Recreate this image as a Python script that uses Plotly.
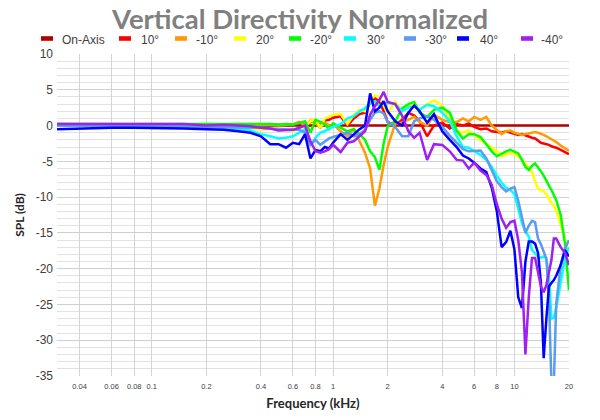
import math
import plotly.graph_objects as go

# ---------------- data ----------------
freq_khz = [0.03, 0.04, 0.05, 0.06, 0.08, 0.1, 0.12, 0.15, 0.2, 0.25, 0.3,
            0.35, 0.4, 0.45, 0.5, 0.55, 0.6, 0.65, 0.7, 0.75, 0.8, 0.85, 0.9, 0.95, 1.0,
            1.1, 1.2, 1.3, 1.4, 1.5, 1.6, 1.7, 1.8, 1.9, 2.0,
            2.2, 2.4, 2.6, 2.8, 3.0,
            3.3, 3.6, 4.0, 4.4, 4.8, 5.2, 5.6, 6.0,
            6.5, 7.0, 7.5, 8.0, 8.5, 9.0, 9.5, 10,
            10.5, 11, 11.5, 12, 12.5, 13, 13.5, 14, 14.5, 15,
            15.5, 16, 16.5, 17, 18, 19, 20]

series_names = ["On-Axis", "10°", "-10°", "20°", "-20°", "30°", "-30°", "40°", "-40°"]
series_colors = ["#B00000", "#FF0000", "#FF9A00", "#FFFF00", "#00FF00",
                 "#00FFFF", "#5B9BF0", "#0000FF", "#A020F0"]

on_axis_db = [0, 0, 0, 0, 0, 0, 0, 0, 0, 0, 0,
              0, 0, 0, 0, 0, 0, 0, 0, 0, 0, 0, 0, 0, 0,
              0, 0, 0, 0, 0, 0, 0, 0, 0, 0,
              0, 0, 0, 0, 0,
              0, 0, 0, 0, 0, 0, 0, 0,
              0, 0, 0, 0, 0, 0, 0, 0,
              0, 0, 0, 0, 0, 0, 0, 0, 0, 0,
              0, 0, 0, 0, 0, 0, 0]

deg_p10_db = [0.1, 0.1, 0.1, 0.1, 0.0, 0.1, 0.0, 0.1, 0.0, 0.1, 0.1,
              0.1, 0.1, 0.0, 0.0, 0.0, 0.1, 0.3, 0.1, 0.5, 0.8, 0.0, 0.7, 0.8, 1.1,
              1.3, 0.0, 1.0, 1.6, 1.8, 3.2, 3.8, 3.4, 2.0, 0.5,
              0.0, 0.8, 1.8, 1.4, 0.6,
              -1.5, 0.0, 0.4, -0.4, 0.2, 0.0, 0.3, -0.2,
              -0.5, -0.4, -0.8, -0.9, -1.0, -0.8, -1.0, -1.2,
              -1.3, -1.2, -1.4, -1.5, -1.7, -1.8, -2.1, -2.4, -2.5, -2.6,
              -2.7, -2.9, -3.0, -3.1, -3.4, -3.7, -4.0]

deg_m10_db = [0.2, 0.2, 0.2, 0.2, 0.1, 0.2, 0.1, 0.2, 0.1, 0.1, 0.2,
              0.2, 0.1, 0.1, 0.0, 0.1, 0.2, 0.5, 0.0, 0.7, 0.3, -0.3, 0.4, 0.0, 0.2,
              -0.8, -1.5, -0.5, -2.2, -3.8, -6.0, -11.2, -8.8, -5.5, -3.0,
              0.3, 0.4, 0.8, 1.2, 0.5,
              0.0, 1.5, 0.8, 0.5, 0.5, 1.0, 0.6, 1.2,
              0.8, 1.2, 0.0, -0.6, -1.2, -0.8, -0.7, -1.0,
              -1.2, -1.3, -1.2, -1.1, -1.0, -0.9, -1.0, -1.1, -1.3, -1.5,
              -1.7, -1.9, -2.1, -2.3, -2.8, -3.2, -3.5]

deg_p20_db = [0.1, 0.1, 0.1, 0.0, 0.0, 0.0, -0.1, 0.0, -0.2, -0.3, -0.3,
              -0.4, -0.6, -0.5, -0.4, -0.6, -0.8, -0.4, -0.1, 0.6, 0.9, -0.3, 1.0, 1.2, 1.5,
              1.6, 0.2, 1.5, 2.2, 2.0, 3.6, 4.2, 4.0, 2.8, 1.8,
              3.3, 2.0, 2.6, 3.0, 2.2,
              3.0, 3.5, 2.8, 0.8, -0.8, -1.0, -0.7, -1.4,
              -2.0, -2.6, -3.0, -3.6, -4.3, -4.0, -3.8, -4.0,
              -4.3, -4.8, -5.3, -6.0, -6.5, -7.8, -8.8, -9.0, -9.2, -9.6,
              -10.3, -10.8, -11.3, -11.9, -13.8, -16.0, -17.8]

deg_m20_db = [0.2, 0.2, 0.2, 0.3, 0.2, 0.2, 0.2, 0.3, 0.2, 0.2, 0.3,
              0.3, 0.2, 0.2, 0.1, 0.2, 0.1, 0.4, 0.6, -1.0, 0.8, 0.5, 0.2, -0.5, 0.3,
              -0.3, -0.8, -0.5, -1.2, -2.0, -3.6, -4.4, -6.2, -2.5, -0.1,
              0.6, 2.4, 3.0, 3.3, 1.8,
              1.2, 2.2, 2.5, 1.8, -0.7, -1.8, -1.2, -1.2,
              -1.6, -2.6, -3.6, -4.3, -3.9, -3.6, -3.4, -3.6,
              -3.9, -4.8, -5.8, -6.2, -5.6, -5.3, -5.8, -6.4, -7.0, -7.8,
              -8.4, -9.0, -9.7, -10.4, -12.5, -16.5, -23.0]

deg_p30_db = [0.0, 0.0, -0.1, -0.1, -0.1, -0.2, -0.2, -0.2, -0.3, -0.4, -0.5,
              -0.7, -1.2, -1.5, -1.8, -1.7, -1.5, -1.0, -0.5, -2.7, -1.7, -1.0, -0.8, -0.4, -0.2,
              0.2, 1.0, 1.3, 2.0, 2.4, 3.1, 3.4, 2.7, 3.1, 3.2,
              3.0, 2.0, 2.5, 2.7, 2.2,
              2.9, 2.7, 1.8, 0.6, -1.5, -3.0, -3.1, -3.6,
              -4.1, -4.8, -5.8, -7.0, -8.0, -8.7, -9.0, -9.6,
              -11.5, -13.6, -14.8, -15.5, -17.4, -17.8, -18.3, -18.5, -18.3, -18.6,
              -21.0, -27.0, -26.8, -25.5, -21.8, -18.5, -17.0]

deg_m30_db = [0.0, 0.0, 0.0, -0.1, -0.1, 0.0, -0.1, -0.1, -0.2, -0.2, -0.2,
              -0.2, -0.3, -0.4, -0.5, -0.5, -0.6, -0.6, -1.0, -2.7, -2.0, -2.7, -2.2, -1.8, -1.6,
              -1.3, -1.0, -1.5, -1.2, -0.6, 0.8, 1.8, 2.0, 1.7, 0.5,
              -0.2, -1.5, -1.5, 0.6, 1.0,
              1.3, 0.8, -0.2, -1.4, -2.4, -3.3, -3.6, -3.6,
              -3.5, -4.6, -6.2, -7.8, -8.6, -9.2, -8.8, -8.6,
              -10.5, -13.0, -15.0, -14.0, -13.3, -13.5, -15.8, -16.6, -17.5, -18.6,
              -24.0, -36.0, -36.0, -25.0, -19.5, -17.2, -16.0]

deg_p40_db = [-0.5, -0.4, -0.4, -0.3, -0.3, -0.3, -0.4, -0.4, -0.5, -0.6, -0.8,
              -1.0, -1.5, -2.6, -2.6, -3.1, -2.4, -2.6, -1.2, -4.6, -3.4, -3.6, -3.0, -3.2, -2.4,
              -1.2, -2.0, -1.2, -0.5, 0.0, 4.5, 2.0, 2.5, 3.4, 2.0,
              0.6, 0.0, 1.8, 2.8, 2.0,
              0.4, 1.6, -0.8, -2.0, -3.0, -4.2, -4.6, -5.2,
              -6.0, -6.5, -8.7, -12.0, -17.0, -16.3, -14.7, -17.3,
              -24.0, -25.5, -19.0, -16.2, -16.2, -16.5, -17.8, -22.0, -32.5, -27.0,
              -22.5, -22.0, -21.6, -21.0, -19.5, -17.4, -18.3]

deg_m40_db = [0.2, 0.2, 0.2, 0.2, 0.2, 0.2, 0.1, 0.2, 0.0, 0.1, 0.0,
              -0.1, -0.3, -0.4, -0.7, -0.7, -0.6, -0.3, 0.0, -2.2, -3.6, -3.8, -3.6, -3.3, -2.7,
              -3.7, -2.4, -2.2, -1.5, -0.8, 1.5, 2.7, 3.6, 4.7, 3.3,
              3.0, 1.4, -0.8, -1.7, -1.0,
              -4.8, -2.6, -2.7, -3.6, -4.8, -4.9, -6.0, -5.2,
              -6.3, -6.9, -8.3, -11.0, -13.0, -14.3, -13.5, -13.3,
              -16.0, -20.5, -32.0, -24.0, -18.5, -18.5, -20.5, -22.5, -23.3, -22.3,
              -20.5, -18.8, -15.8, -15.8, -17.0, -17.8, -19.5]

x_tick_vals = [0.04, 0.06, 0.08, 0.1, 0.2, 0.4, 0.6, 0.8, 1, 2, 4, 6, 8, 10, 20]
x_tick_text = ["0.04", "0.06", "0.08", "0.1", "0.2", "0.4", "0.6", "0.8",
               "1", "2", "4", "6", "8", "10", "20"]
y_tick_vals = [10, 5, 0, -5, -10, -15, -20, -25, -30, -35]
y_tick_text = ["10", "5", "0", "-5", "-10", "-15", "-20", "-25", "-30", "-35"]

# ---------------- layout constants (window pixels) ----------------
PAGE_OFF = 8                      # default body margin of the html page
W, H = 600 - PAGE_OFF, 420 - PAGE_OFF
PLOT_L, PLOT_R, PLOT_T, PLOT_B = 57, 569, 54, 376   # plot area in window pixels
M_L, M_T = PLOT_L - PAGE_OFF, PLOT_T - PAGE_OFF
M_R, M_B = W - (PLOT_R - PAGE_OFF), H - (PLOT_B - PAGE_OFF)
PW, PH = PLOT_R - PLOT_L, PLOT_B - PLOT_T
legend_swatch_px = [47, 125, 181, 240, 295, 350, 410, 463, 527]   # swatch centres
legend_text_px = [61, 140, 195, 255, 309, 366, 424, 479, 540]     # text left edges
legend_swatch_y_px = 38.5
legend_text_y_px = 39.5
title_y_px = 19


def px_to_paper_x(px):
    return (px - PLOT_L) / PW


def px_to_paper_y(py):
    return (PLOT_B - py) / PH


# ---------------- figure ----------------
all_series = [on_axis_db, deg_p10_db, deg_m10_db, deg_p20_db, deg_m20_db,
              deg_p30_db, deg_m30_db, deg_p40_db, deg_m40_db]

fig = go.Figure()
for name, color, vals in zip(series_names, series_colors, all_series):
    fig.add_trace(go.Scatter(x=freq_khz, y=vals, mode="lines", name=name,
                             line=dict(color=color, width=2.5),
                             showlegend=False, hoverinfo="skip"))

# hand-built legend (short thick swatches, as in the original)
shapes = []
annotations = []
for name, color, sx, tx in zip(series_names, series_colors, legend_swatch_px, legend_text_px):
    shapes.append(dict(type="rect", xref="paper", yref="paper",
                       x0=px_to_paper_x(sx - 6), x1=px_to_paper_x(sx + 6),
                       y0=px_to_paper_y(legend_swatch_y_px + 2.3),
                       y1=px_to_paper_y(legend_swatch_y_px - 2.3),
                       fillcolor=color, line=dict(width=0)))
    annotations.append(dict(text=name, xref="paper", yref="paper",
                            x=px_to_paper_x(tx), y=px_to_paper_y(legend_text_y_px),
                            xanchor="left", yanchor="middle", showarrow=False,
                            borderpad=0,
                            font=dict(family="Liberation Sans, Arial, sans-serif",
                                      size=12, color="#404040")))

axis_font = dict(family="Liberation Sans, Arial, sans-serif", color="#404040")

fig.update_layout(
    width=W, height=H,
    margin=dict(l=M_L, r=M_R, t=M_T, b=M_B, autoexpand=False),
    paper_bgcolor="white", plot_bgcolor="white",
    showlegend=False,
    shapes=shapes, annotations=annotations,
    title=dict(text="Vertical Directivity Normalized",
               x=(300 - PAGE_OFF) / W, xanchor="center",
               y=1 - (title_y_px - PAGE_OFF) / H, yanchor="middle", yref="container",
               font=dict(family="Lato, Open Sans, sans-serif", size=27.5,
                         color="#808080", weight="bold")),
    xaxis=dict(type="log", range=[math.log10(0.03), math.log10(20)],
               tickmode="array", tickvals=x_tick_vals, ticktext=x_tick_text,
               tickfont=dict(size=7.5, **axis_font), ticklabelstandoff=4,
               showgrid=True, gridcolor="#d4d4d4", gridwidth=1,
               zeroline=False, showline=False, ticks="", automargin=False,
               title=dict(text="Frequency (kHz)", standoff=9,
                          font=dict(family="Lato, Open Sans, sans-serif", size=13,
                                    color="#262626", weight="bold"))),
    yaxis=dict(range=[-35, 10], tickmode="array", tickvals=y_tick_vals,
               ticktext=y_tick_text, tickfont=dict(size=12, **axis_font),
               ticklabelstandoff=3,
               showgrid=True, gridcolor="#cfcfcf", gridwidth=1,
               minor=dict(tick0=0, dtick=1, showgrid=True, gridcolor="#e2e2e2", gridwidth=1),
               zeroline=False, showline=False, ticks="", automargin=False,
               title=dict(text="SPL (dB)", standoff=8,
                          font=dict(family="Lato, Open Sans, sans-serif", size=12,
                                    color="#262626", weight="bold"))),
)

fig.write_html("out.html")
